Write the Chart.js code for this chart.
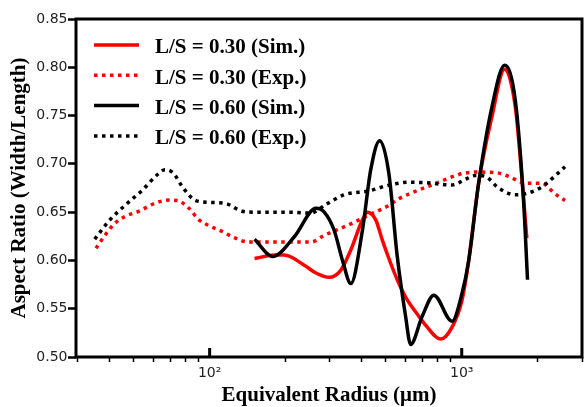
<!DOCTYPE html>
<html>
<head>
<meta charset="utf-8">
<script src="https://cdn.jsdelivr.net/npm/chart.js@4"></script>
<style>
  body { margin: 0; background: #fff; }
  #wrap { width: 585px; height: 407px; }
</style>
</head>
<body>
<div id="wrap"><canvas id="aspectChart"></canvas></div>
<script>
// L/S = 0.30 (Sim.)
const sim030Radius = [150.7, 180.7, 197.9, 237.4, 264, 297.6, 331.6, 363.2, 403.6, 422.4, 456, 484.2, 514, 555, 599, 676.6, 718.7, 823.9, 915.5, 1003, 1066, 1167, 1318, 1479, 1631, 1731, 1812];
const sim030Ratio  = [0.602, 0.6056, 0.6056, 0.595, 0.587, 0.5825, 0.590, 0.611, 0.642, 0.650, 0.642, 0.621, 0.602, 0.580, 0.562, 0.542, 0.533, 0.5186, 0.531, 0.559, 0.600, 0.680, 0.749, 0.798, 0.759, 0.687, 0.623];

// L/S = 0.30 (Exp.)
const exp030Radius = [35.4, 38.2, 41.9, 46.6, 52.6, 60.3, 69.0, 74.5, 82.8, 90.7, 99.4, 112, 126.7, 143, 200, 252.5, 285, 357, 429, 514, 564, 677, 811, 973, 1133, 1360, 1535, 1787, 2075, 2344, 2570];
const exp030Ratio  = [0.6125, 0.625, 0.638, 0.646, 0.651, 0.659, 0.6625, 0.662, 0.654, 0.642, 0.636, 0.630, 0.623, 0.619, 0.619, 0.619, 0.626, 0.637, 0.647, 0.657, 0.664, 0.673, 0.681, 0.689, 0.6915, 0.691, 0.687, 0.680, 0.680, 0.669, 0.662];

// L/S = 0.60 (Sim.)
const sim060Radius = [150.7, 177.9, 216.7, 264.1, 284.8, 312, 336.5, 363.2, 403.6, 435.6, 472.8, 514, 555, 599, 627, 696.7, 775, 915.5, 1003, 1066, 1167, 1318, 1479, 1631, 1758, 1824];
const sim060Ratio  = [0.622, 0.604, 0.6245, 0.654, 0.650, 0.631, 0.600, 0.576, 0.631, 0.694, 0.724, 0.690, 0.604, 0.542, 0.513, 0.542, 0.564, 0.537, 0.566, 0.600, 0.680, 0.759, 0.802, 0.766, 0.663, 0.580];

// L/S = 0.60 (Exp.)
const exp060Radius = [35.0, 39.9, 46.6, 54.2, 62.1, 66.5, 71.3, 79.1, 88.1, 102.5, 115.7, 134.6, 152, 200, 250, 293.6, 341.7, 429, 514, 618, 760, 912, 1034, 1132, 1241, 1400, 1631, 1786, 2072, 2570];
const exp060Ratio  = [0.622, 0.641, 0.658, 0.673, 0.689, 0.694, 0.691, 0.674, 0.662, 0.660, 0.659, 0.651, 0.650, 0.650, 0.649, 0.659, 0.668, 0.672, 0.678, 0.681, 0.680, 0.678, 0.684, 0.688, 0.687, 0.675, 0.668, 0.669, 0.676, 0.697];

const xTickValues = [30, 40, 50, 60, 70, 80, 90, 100, 200, 300, 400, 500, 600, 700, 800, 900, 1000, 2000, 3000];
const xTickLabels = { 100: '10\u00B2', 1000: '10\u00B3' };
const yTickValues = [0.50, 0.55, 0.60, 0.65, 0.70, 0.75, 0.80, 0.85];

const seriesNames = ['L/S = 0.30 (Sim.)', 'L/S = 0.30 (Exp.)', 'L/S = 0.60 (Sim.)', 'L/S = 0.60 (Exp.)'];
const seriesColors = ['#ff0000', '#ff0000', '#000000', '#000000'];

const serif = "'Liberation Serif', 'Times New Roman', serif";
const sans = "'DejaVu Sans', sans-serif";
const dotted = [3.5, 4.5];

function toPoints(xs, ys) {
  return xs.map((x, i) => ({ x: x, y: ys[i] }));
}

function lineSet(i, xs, ys, dash, order) {
  return {
    label: seriesNames[i],
    data: toPoints(xs, ys),
    borderColor: seriesColors[i],
    borderWidth: 3.5,
    borderDash: dash,
    borderCapStyle: 'butt',
    pointRadius: 0,
    fill: false,
    cubicInterpolationMode: 'monotone',
    order: order
  };
}

// frame, inner major ticks and the legend box
const decorPlugin = {
  id: 'decor',
  afterDraw(chart) {
    const { ctx, chartArea: a, scales } = chart;
    ctx.save();
    ctx.strokeStyle = '#000';
    ctx.lineWidth = 3;
    ctx.setLineDash([]);
    ctx.strokeRect(a.left, a.top, a.right - a.left, a.bottom - a.top);

    // major x ticks point into the plot
    [100, 1000].forEach(v => {
      const px = scales.x.getPixelForValue(v);
      ctx.beginPath();
      ctx.moveTo(px, a.bottom);
      ctx.lineTo(px, a.bottom - 9);
      ctx.stroke();
    });

    // legend
    const dashes = [[], dotted, [], dotted];
    ctx.font = 'bold 21px ' + serif;
    ctx.textBaseline = 'alphabetic';
    ctx.textAlign = 'left';
    seriesNames.forEach((name, i) => {
      const y = 45 + i * 30.3;
      ctx.beginPath();
      ctx.strokeStyle = seriesColors[i];
      ctx.lineWidth = 3.5;
      ctx.setLineDash(dashes[i]);
      ctx.moveTo(94, y);
      ctx.lineTo(139, y);
      ctx.stroke();
      ctx.fillStyle = '#000';
      ctx.fillText(name, 155, y + 8.3);
    });
    ctx.restore();
  }
};

new Chart(document.getElementById('aspectChart'), {
  type: 'line',
  data: {
    datasets: [
      lineSet(0, sim030Radius, sim030Ratio, [], 4),
      lineSet(1, exp030Radius, exp030Ratio, dotted, 3),
      lineSet(2, sim060Radius, sim060Ratio, [], 2),
      lineSet(3, exp060Radius, exp060Ratio, dotted, 1)
    ]
  },
  options: {
    responsive: true,
    maintainAspectRatio: false,
    animation: false,
    layout: { padding: { top: 19, right: 1, left: 0, bottom: 0 } },
    plugins: {
      legend: { display: false },
      tooltip: { enabled: false }
    },
    scales: {
      x: {
        type: 'logarithmic',
        min: 29.5,
        max: 3000,
        afterBuildTicks: scale => { scale.ticks = xTickValues.map(v => ({ value: v })); },
        afterFit: scale => { scale.height = 50; },
        border: { display: false },
        grid: {
          drawOnChartArea: false,
          tickLength: 5,
          tickWidth: 1.5,
          tickColor: c => (c.tick && xTickLabels[c.tick.value]) ? 'rgba(0,0,0,0)' : '#000'
        },
        ticks: {
          autoSkip: false,
          maxRotation: 0,
          padding: 3,
          color: '#222',
          font: { family: sans, size: 14 },
          callback: v => xTickLabels[v] || ''
        },
        title: {
          display: true,
          text: 'Equivalent Radius (\u03BCm)',
          color: '#000',
          font: { family: serif, size: 21, weight: 'bold', lineHeight: 1 },
          padding: { top: 0, bottom: 0.5 }
        }
      },
      y: {
        min: 0.5,
        max: 0.85,
        afterBuildTicks: scale => { scale.ticks = yTickValues.map(v => ({ value: v })); },
        afterFit: scale => { scale.width = 76; },
        border: { display: false },
        grid: {
          drawOnChartArea: false,
          tickLength: 8,
          tickWidth: 2.5,
          tickColor: '#000'
        },
        ticks: {
          padding: 0.5,
          color: '#222',
          font: { family: sans, size: 14 },
          callback: v => Number(v).toFixed(2)
        },
        title: {
          display: true,
          text: 'Aspect Ratio (Width/Length)',
          color: '#000',
          font: { family: serif, size: 21, weight: 'bold', lineHeight: 1 },
          padding: { top: 9.5, bottom: 0 }
        }
      }
    }
  },
  plugins: [decorPlugin]
});
</script>
</body>
</html>
